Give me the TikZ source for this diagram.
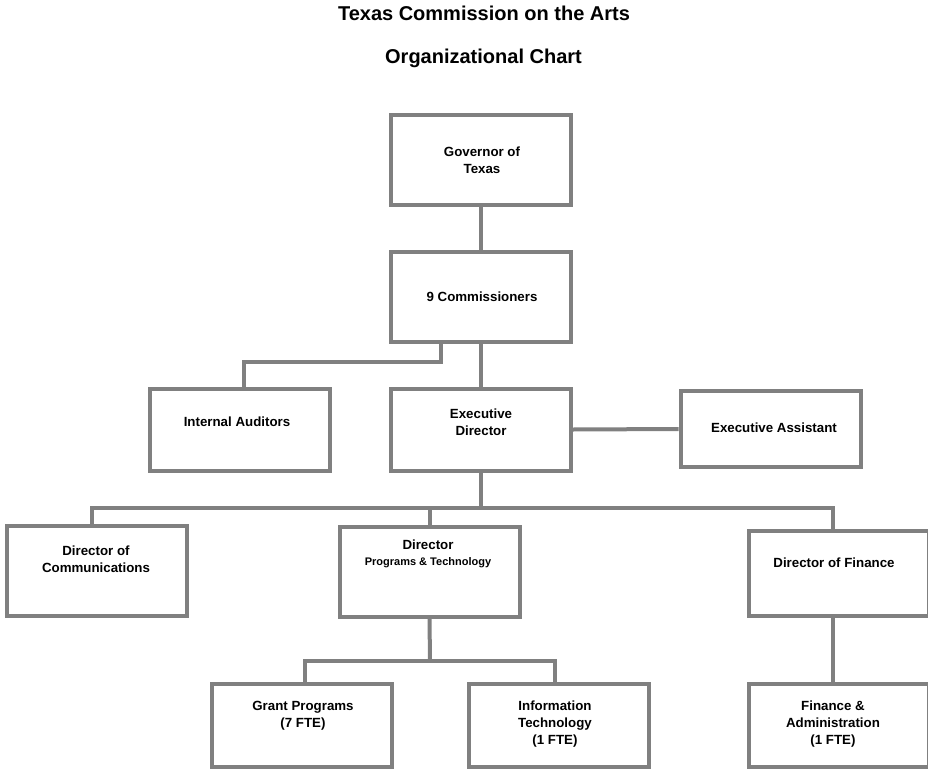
\documentclass[tikz,border=0pt]{standalone}
\usepackage{fontspec}
\setmainfont{Liberation Sans}
\begin{document}
\begin{tikzpicture}[x=1pt,y=-1pt,
  box/.style={draw=linegray, line width=4pt, fill=white, minimum width=#1, inner sep=0pt},
  box/.default=180pt,
  txt/.style={font=\bfseries\fontsize{13.3}{17}\selectfont, align=center, text=black, inner sep=0pt},
  ttl/.style={font=\bfseries\fontsize{20}{24}\selectfont, inner sep=0pt},
  conn/.style={draw=linegray, line width=4pt}]
\definecolor{linegray}{RGB}{128,128,128}
\useasboundingbox (0,0) rectangle (928,770);
% titles
\node[ttl] (t1) at (484,13) {Texas Commission on the Arts};
\node[ttl] (t2) at (483.5,58) {Organizational Chart};
% boxes
\node[box, minimum height=90pt] (gov) at (481,160) {};
\node[box, minimum height=90pt] (com) at (481,297) {};
\node[box, minimum height=82pt] (aud) at (239.5,429.5) {};
\node[box, minimum height=82pt] (ed) at (481,429.5) {};
\node[box, minimum height=76pt] (ea) at (770.5,429) {};
\node[box, minimum height=90pt] (dc) at (96.5,571) {};
\node[box, minimum height=90pt] (dp) at (429.5,572) {};
\node[box, minimum height=85pt] (df) at (838.5,573) {};
\node[box, minimum height=83pt] (gp) at (302,725) {};
\node[box, minimum height=83pt] (it) at (558.5,725) {};
\node[box, minimum height=83pt] (fa) at (838.5,725) {};
% texts
\node[txt] (tgov) at (482,160) {Governor of\\Texas};
\node[txt] (tcom) at (482,297) {9 Commissioners};
\node[txt] (taud) at (237,422) {Internal Auditors};
\node[txt] (ted) at (481,422) {Executive\\Director};
\node[txt] (tea) at (774,428) {Executive Assistant};
\node[txt] (tdc) at (96,559) {Director of\\Communications};
\node[txt, anchor=north] (tdp) at (428,540) {Director\\[-1pt]{\fontsize{11}{13}\selectfont Programs \& Technology}};
\node[txt] (tdf) at (834,563) {Director of Finance};
\node[txt] (tgp) at (303,716) {Grant Programs\\(7 FTE)};
\node[txt] (tit) at (555,724) {Information\\Technology\\(1 FTE)};
\node[txt] (tfa) at (833,724) {Finance \&\\Administration\\(1 FTE)};
% connectors
\coordinate (j1) at (441,362);
\coordinate (j2) at (244,362);
\coordinate (bl) at (92,508);
\coordinate (br) at (833,508);
\coordinate (bm) at (481,508);
\coordinate (pl) at (305,661);
\coordinate (pr) at (555,661);
\coordinate (pm) at (430,661);
\draw[conn] (gov.south) -- (com.north);
\draw[conn] (com.south) -- (ed.north);
\draw[conn] (com.south -| j1) -- (j1) -- (j2) -- (aud.north -| j2);
\draw[conn] (ed.east) -- (ea.west);
\draw[conn] (ed.south) -- (bm);
\draw[conn, line join=miter] (dc.north -| bl) -- (bl) -- (br) -- (df.north -| br);
\draw[conn] (bm -| dp.north) -- (dp.north);
\draw[conn] (df.south -| br) -- (fa.north -| br);
\draw[conn] (dp.south) -- (pm);
\draw[conn, line join=miter] (gp.north -| pl) -- (pl) -- (pr) -- (it.north -| pr);
\end{tikzpicture}
\end{document}
